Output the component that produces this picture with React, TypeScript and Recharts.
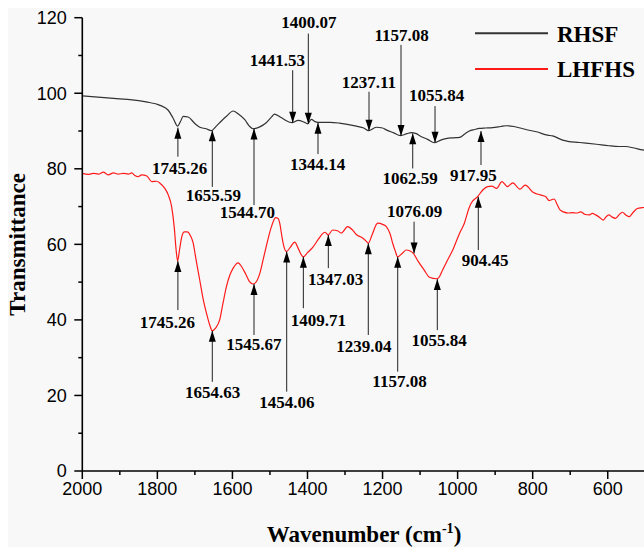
import React from 'react';
import { LineChart, Line, XAxis, YAxis, ReferenceLine, ReferenceDot, Legend } from 'recharts';

// ---------- data (wavenumber, transmittance) ----------
const RHSF_POINTS: [number, number][] = [
  [2000, 99.3], [1950, 98.9], [1900, 98.5], [1873, 98.3], [1830, 97.7], [1793, 96.8],
  [1771, 95.5], [1758, 93.4], [1746, 91.3], [1738, 92.6], [1731, 93.9], [1718, 93.7],
  [1700, 92.0], [1687, 91.0], [1670, 90.6], [1656, 90.1], [1643, 91.3], [1630, 92.6],
  [1616, 93.9], [1598, 95.3], [1585, 94.6], [1567, 93.0], [1555, 91.3], [1545, 90.6],
  [1527, 91.1], [1510, 92.2], [1495, 93.8], [1488, 94.5], [1474, 93.8], [1461, 93.0],
  [1441, 92.2], [1425, 92.8], [1410, 92.4], [1399, 91.9], [1390, 93.1], [1380, 92.5],
  [1372, 92.3], [1340, 92.3], [1315, 92.1], [1270, 91.3], [1250, 90.8], [1237, 90.1],
  [1217, 91.0], [1200, 90.8], [1190, 90.3], [1170, 89.5], [1152, 88.8], [1135, 89.3],
  [1124, 89.6], [1110, 89.3], [1100, 88.7], [1080, 87.8], [1062, 86.9], [1045, 87.6],
  [1031, 88.0], [1010, 88.2], [995, 88.3], [980, 89.3], [969, 90.0], [955, 90.4],
  [942, 90.7], [925, 90.8], [907, 90.9], [885, 91.2], [871, 91.4], [850, 91.2],
  [818, 90.4], [790, 89.8], [760, 88.9], [747, 88.7], [720, 87.6], [703, 87.2],
  [680, 87.0], [658, 86.8], [630, 86.5], [597, 86.1], [570, 85.9], [552, 85.9],
  [530, 85.5], [507, 85.0], [500, 84.9],
];

const LHFHS_POINTS: [number, number][] = [
  [2000, 78.8], [1984, 78.5], [1971, 78.8], [1957, 78.6], [1944, 79.1], [1931, 78.4],
  [1917, 78.9], [1904, 78.6], [1891, 78.8], [1877, 78.6], [1868, 78.9], [1860, 78.2],
  [1851, 77.9], [1842, 78.4], [1828, 78.1], [1815, 76.6], [1802, 76.7], [1793, 76.2],
  [1780, 74.8], [1771, 73.1], [1762, 70.0], [1755, 64.5], [1750, 58.5], [1746, 55.6],
  [1741, 58.5], [1735, 62.0], [1728, 63.3], [1720, 63.3], [1712, 62.3], [1705, 60.5],
  [1697, 56.0], [1687, 50.5], [1678, 45.5], [1669, 41.7], [1660, 38.5], [1654, 37.1],
  [1645, 37.8], [1634, 40.0], [1625, 44.5], [1616, 48.8], [1607, 51.8], [1598, 53.7],
  [1585, 55.1], [1575, 54.0], [1565, 52.2], [1555, 50.2], [1545, 49.5], [1535, 50.3],
  [1527, 52.3], [1518, 56.0], [1510, 59.4], [1496, 64.7], [1485, 67.1], [1478, 66.8],
  [1474, 65.6], [1468, 62.0], [1465, 60.3], [1456, 58.1], [1446, 59.2], [1434, 60.6],
  [1425, 59.0], [1418, 57.5], [1411, 56.7], [1400, 57.8], [1386, 59.2], [1370, 61.5],
  [1359, 62.9], [1353, 63.2], [1345, 62.5], [1333, 63.8], [1320, 63.6], [1310, 63.0],
  [1293, 64.7], [1280, 63.8], [1270, 62.6], [1255, 61.8], [1245, 61.0], [1238, 60.3],
  [1228, 62.5], [1213, 65.6], [1200, 65.3], [1190, 64.7], [1180, 62.8], [1173, 60.3],
  [1166, 58.2], [1160, 56.7], [1146, 57.8], [1137, 58.5], [1128, 58.3], [1118, 57.6],
  [1105, 55.5], [1089, 53.2], [1075, 51.3], [1056, 50.9], [1050, 51.2], [1040, 53.2],
  [1026, 56.0], [1013, 58.5], [995, 62.9], [982, 65.6], [970, 69.5], [964, 70.9],
  [947, 72.6], [933, 74.4], [920, 75.3], [909, 75.4], [896, 74.8], [882, 76.6],
  [867, 75.3], [853, 76.3], [834, 74.6], [820, 75.7], [798, 73.7], [780, 73.1],
  [765, 72.6], [756, 71.6], [743, 72.0], [734, 70.4], [727, 69.1], [718, 68.6],
  [705, 68.3], [694, 68.4], [683, 68.3], [672, 68.6], [660, 67.9], [650, 67.8],
  [641, 68.2], [632, 67.8], [620, 67.0], [612, 66.4], [605, 67.2], [597, 67.8],
  [588, 67.2], [579, 66.9], [570, 67.8], [561, 68.5], [552, 67.8], [543, 67.3],
  [532, 68.5], [521, 69.5], [508, 69.7], [500, 69.8],
];

const X_TICKS = [2000, 1900, 1800, 1700, 1600, 1500, 1400, 1300, 1200, 1100, 1000, 900, 800, 700, 600, 500];
const Y_TICKS = [0, 10, 20, 30, 40, 50, 60, 70, 80, 90, 100, 110, 120];

// peak annotations: [label, arrow wavenumber, arrow tip, arrow tail, label wavenumber, label value]
type Mark = [string, number, number, number, number, number];
const RHSF_MARKS: Mark[] = [
  ['1745.26', 1745.3, 90.9, 83.2, 1740.5, 80.2],
  ['1655.59', 1653.6, 90.2, 75.2, 1651, 73.0],
  ['1544.70', 1542.5, 90.7, 70.4, 1560, 68.4],
  ['1441.53', 1439.4, 92.2, 106.1, 1480.4, 108.8],
  ['1400.07', 1397.8, 91.9, 115.8, 1396, 118.7],
  ['1344.14', 1372, 92.2, 83.9, 1373.3, 81.1],
  ['1237.11', 1236.1, 90.1, 100.4, 1236.6, 102.9],
  ['1157.08', 1150.8, 88.7, 112.8, 1149, 115.3],
  ['1055.84', 1060.2, 86.9, 96.6, 1055.7, 99.4],
  ['1062.59', 1119.6, 89.4, 80.1, 1126.8, 77.6],
  ['917.95', 937.7, 90.0, 81.0, 958.2, 78.4],
];
const LHFHS_MARKS: Mark[] = [
  ['1745.26', 1745.3, 55.6, 42.6, 1773, 39.4],
  ['1654.63', 1653.6, 37.1, 23.6, 1653, 20.8],
  ['1545.67', 1542.5, 49.5, 36.0, 1543, 33.5],
  ['1454.06', 1455.4, 58.1, 21.0, 1455, 18.2],
  ['1409.71', 1411, 56.7, 43.1, 1371, 40.0],
  ['1347.03', 1344.5, 62.5, 53.7, 1325.3, 50.9],
  ['1239.04', 1238, 60.3, 36.0, 1250, 33.0],
  ['1157.08', 1159.6, 56.7, 26.3, 1154.8, 23.7],
  ['1076.09', 1116, 57.6, 66.0, 1114.8, 68.7],
  ['1055.84', 1054.1, 50.8, 37.3, 1049, 34.6],
  ['904.45', 944.9, 72.6, 58.5, 927, 55.9],
];

const SERIES = [
  { name: 'RHSF', color: '#333333', points: RHSF_POINTS },
  { name: 'LHFHS', color: '#ff1a1a', points: LHFHS_POINTS },
];
const SERIES_ORDER = SERIES.map((s) => s.name);

// ---------- styling ----------
const SERIF = '"Liberation Serif", "Times New Roman", serif';
const SANS = '"Liberation Sans", Arial, sans-serif';

const XTick = (props: any) => {
  const { x, y, payload } = props;
  const major = payload.value % 200 === 0;
  return (
    <g>
      <line x1={x} y1={y} x2={x} y2={y + (major ? 8 : 4)} stroke="#000" strokeWidth={1.5} />
      {major && (
        <text x={x} y={y + 24} textAnchor="middle" fontFamily={SANS} fontSize={18} fill="#000">
          {payload.value}
        </text>
      )}
    </g>
  );
};

const YTick = (props: any) => {
  const { x, y, payload } = props;
  const major = payload.value % 20 === 0;
  return (
    <g>
      <line x1={x - (major ? 8 : 4)} y1={y} x2={x} y2={y} stroke="#000" strokeWidth={1.5} />
      {major && (
        <text x={x - 15.6} y={y + 6.4} textAnchor="end" fontFamily={SANS} fontSize={18} fill="#000">
          {payload.value}
        </text>
      )}
    </g>
  );
};

const XTitle = (props: any) => {
  const vb = props.viewBox;
  return (
    <text x={vb.x + 281.7} y={vb.y + 70.7} textAnchor="middle" fontFamily={SERIF} fontWeight="bold" fontSize={23} fill="#000">
      Wavenumber (cm
      <tspan dy={-9} fontSize={14}>-1</tspan>
      <tspan dy={9}>)</tspan>
    </text>
  );
};

const YTitle = (props: any) => {
  const vb = props.viewBox;
  const cx = vb.x + vb.width - 56.8;
  const cy = vb.y + vb.height / 2;
  return (
    <text x={cx} y={cy} transform={`rotate(-90, ${cx}, ${cy})`} textAnchor="middle" fontFamily={SERIF} fontWeight="bold" fontSize={23} fill="#000">
      Transmittance
    </text>
  );
};

const renderLegend = (props: any) => {
  const payload = [...(props.payload || [])].sort(
    (a: any, b: any) => SERIES_ORDER.indexOf(a.value) - SERIES_ORDER.indexOf(b.value)
  );
  return (
    <svg width={180} height={72} style={{ display: 'block' }}>
      {payload.map((p: any, i: number) => (
        <g key={p.value}>
          <line x1={12} x2={85} y1={18.3 + i * 35.7} y2={18.3 + i * 35.7} stroke={p.color} strokeWidth={2} />
          <text x={94} y={26.7 + i * 35} fontFamily={SERIF} fontWeight="bold" fontSize={23} fill="#000">
            {p.value}
          </text>
        </g>
      ))}
    </svg>
  );
};

const markElements = (marks: Mark[], prefix: string) =>
  marks.flatMap(([label, at, tip, tail, labelAt, labelV], i) => {
    const up = tail < tip; // arrow coming from below, pointing up
    return [
      <ReferenceLine
        key={`${prefix}-l-${i}`}
        segment={[{ x: at, y: tail }, { x: at, y: tip }]}
        stroke="#222"
        strokeWidth={1}
      />,
      <ReferenceDot
        key={`${prefix}-a-${i}`}
        x={at}
        y={tip}
        r={1}
        shape={(p: any) => {
          const d = up ? 11 : -11;
          return (
            <polygon
              points={`${p.cx},${p.cy} ${p.cx - 3.5},${p.cy + d} ${p.cx + 3.5},${p.cy + d}`}
              fill="#000"
              stroke="none"
            />
          );
        }}
      />,
      <ReferenceDot
        key={`${prefix}-t-${i}`}
        x={labelAt}
        y={labelV}
        r={1}
        shape={(p: any) => (
          <text x={p.cx} y={p.cy + 5.8} textAnchor="middle" fontFamily={SERIF} fontWeight="bold" fontSize={17} fill="#000">
            {label}
          </text>
        )}
      />,
    ];
  });

export default function App() {
  return (
    <div
      style={{
        position: 'absolute',
        left: 8,
        top: 8,
        width: 636,
        height: 539,
        overflow: 'hidden',
        background: '#f8f8f8',
      }}
    >
      <LineChart width={690} height={539} margin={{ top: 9.7, right: 15.2, bottom: 46, left: 14.3 }}>
        <XAxis
          type="number"
          dataKey="w"
          domain={[400, 2000]}
          reversed
          allowDataOverflow
          ticks={X_TICKS}
          interval={0}
          tick={<XTick />}
          tickLine={false}
          tickSize={0}
          tickMargin={0}
          height={30}
          axisLine={{ stroke: '#000', strokeWidth: 1.6 }}
          label={{ content: <XTitle /> }}
        />
        <YAxis
          type="number"
          dataKey="v"
          domain={[0, 120]}
          allowDataOverflow
          ticks={Y_TICKS}
          interval={0}
          tick={<YTick />}
          tickLine={false}
          tickSize={0}
          tickMargin={0}
          width={60}
          axisLine={{ stroke: '#000', strokeWidth: 1.6 }}
          label={{ content: <YTitle /> }}
        />
        <Legend
          layout="horizontal"
          verticalAlign="middle"
          align="center"
          content={renderLegend}
          wrapperStyle={{ left: 455, top: 7, width: 180, height: 72 }}
        />
        {SERIES.map((s) => (
          <Line
            key={s.name}
            name={s.name}
            data={s.points.map(([w, v]) => ({ w, v }))}
            dataKey="v"
            type="monotone"
            stroke={s.color}
            strokeWidth={1.2}
            dot={false}
            activeDot={false}
            isAnimationActive={false}
          />
        ))}
        {markElements(RHSF_MARKS, 'b')}
        {markElements(LHFHS_MARKS, 'r')}
      </LineChart>
    </div>
  );
}
